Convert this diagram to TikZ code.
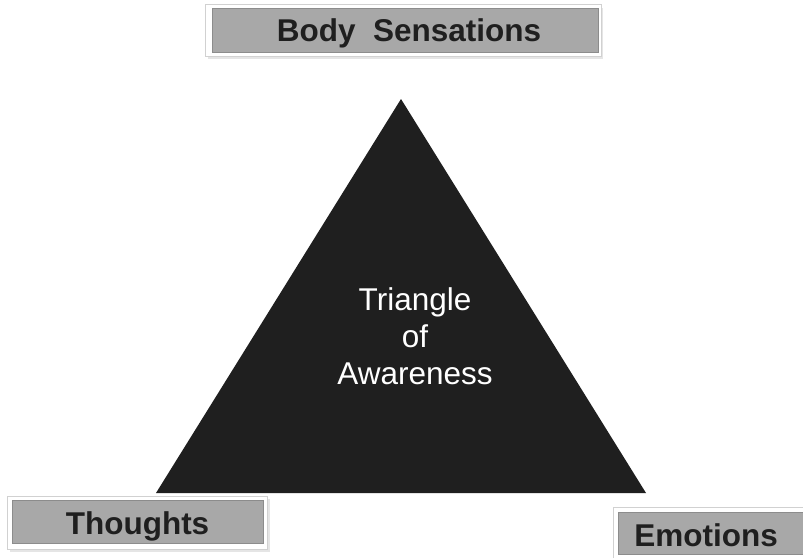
\documentclass[tikz,border=0pt]{standalone}
\usepackage{fontspec}
\setmainfont{Liberation Sans}
\begin{document}
\begin{tikzpicture}[x=1pt,y=-1pt,
  frame/.style={fill=white,draw=black!18,line width=0.8pt},
  labelbox/.style={fill=black!34,draw=black!45,line width=0.4pt},
  labeltext/.style={font=\fontsize{31.5}{36}\selectfont\bfseries,text=black!88,inner sep=0pt},
  tritext/.style={font=\fontsize{31.5}{37}\selectfont,text=white,align=center,inner sep=0pt}]
\useasboundingbox (0,0) rectangle (803,557);
\fill[white] (0,0) rectangle (803,557);
% triangle
\fill[black!88] (401,99) -- (646,493) -- (156,493) -- cycle;
\node[tritext] (tri) at (415,336) {Triangle\\of\\Awareness};
% Body Sensations
\fill[black!10] (208,8) rectangle (603,59);
\draw[frame] (205,4) rectangle (601,56);
\draw[labelbox] (212,8) rectangle (598,52);
\node[labeltext] (body) at (409,33) {Body\hspace{0.55em}Sensations};
% Thoughts
\fill[black!10] (10,499) rectangle (270,552);
\draw[frame] (7,496) rectangle (267,549);
\draw[labelbox] (12,500) rectangle (263,543);
\node[labeltext] (thoughts) at (137.5,526) {Thoughts};
% Emotions
\fill[black!10] (616,510) rectangle (806,560);
\draw[frame] (613,507) rectangle (806,560);
\draw[labelbox] (618,512) rectangle (806,554);
\node[labeltext] (emotions) at (706,535) {Emotions};
\end{tikzpicture}
\end{document}
